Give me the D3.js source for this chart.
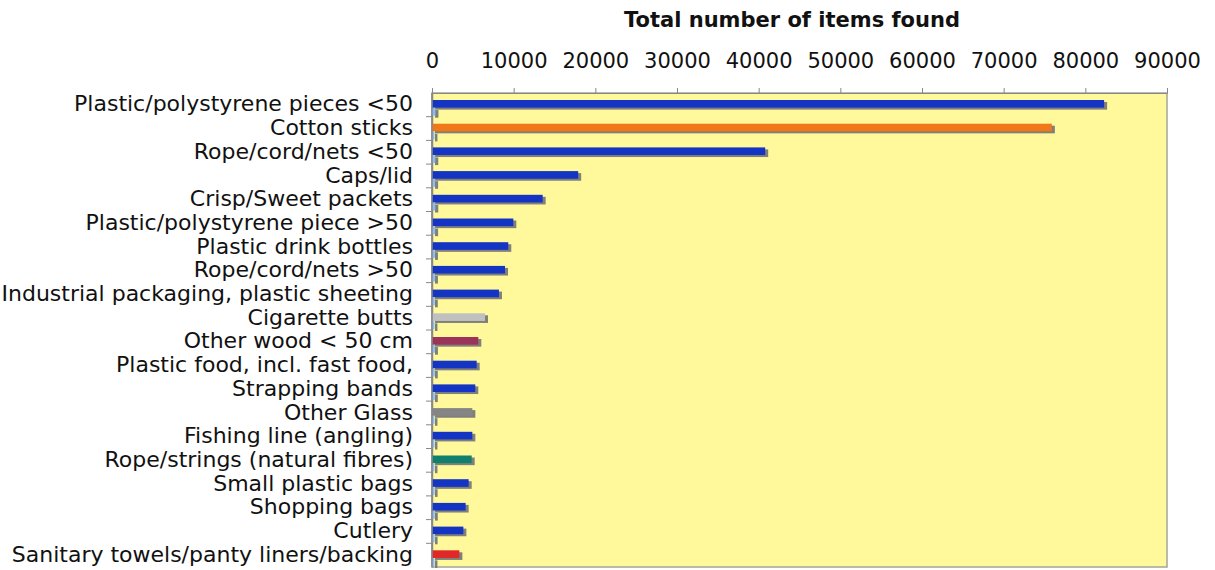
<!DOCTYPE html>
<html>
<head>
<meta charset="utf-8">
<script src="https://cdn.jsdelivr.net/npm/d3@7"></script>
<style>
  body { margin: 0; background: #fff; }
  svg { display: block; }
  svg text { font-family: 'DejaVu Sans', Verdana, sans-serif; }
</style>
</head>
<body>
<svg id="chart" width="1215" height="570"></svg>
<script>
// Data
const categories = [
  'Plastic/polystyrene pieces <50',
  'Cotton sticks',
  'Rope/cord/nets <50',
  'Caps/lid',
  'Crisp/Sweet packets',
  'Plastic/polystyrene piece >50',
  'Plastic drink bottles',
  'Rope/cord/nets >50',
  'Industrial packaging, plastic sheeting',
  'Cigarette butts',
  'Other wood < 50 cm',
  'Plastic food, incl. fast food,',
  'Strapping bands',
  'Other Glass',
  'Fishing line (angling)',
  'Rope/strings (natural fibres)',
  'Small plastic bags',
  'Shopping bags',
  'Cutlery',
  'Sanitary towels/panty liners/backing'
];
const totalFound = [82300, 75900, 40800, 17900, 13550, 9960, 9340, 8940, 8200, 6490,
                    5670, 5470, 5300, 4940, 4940, 4860, 4490, 4120, 3840, 3350];
const secondSeries = [420, 300, 400, 380, 400, 380, 360, 360, 340, 300,
                      360, 340, 340, 300, 300, 300, 320, 340, 320, 300];
const barColors = ['#1434c4', '#f07818', '#1434c4', '#1434c4', '#1434c4', '#1434c4', '#1434c4',
                   '#1434c4', '#1434c4', '#c0c0c0', '#9c3358', '#1434c4', '#1434c4', '#858585',
                   '#1434c4', '#10806c', '#1434c4', '#1434c4', '#1434c4', '#e02828'];
const xTicks = [0, 10000, 20000, 30000, 40000, 50000, 60000, 70000, 80000, 90000];
const title = 'Total number of items found';

const margin = { top: 93, right: 48, bottom: 3, left: 432 };
const width = 1215, height = 570;

const svg = d3.select('#chart');

const x = d3.scaleLinear()
  .domain([0, 90000])
  .range([margin.left, width - margin.right]);

const y = d3.scaleBand()
  .domain(categories)
  .range([margin.top, height - margin.bottom])
  .padding(0);

// sub band for the two series inside each category
const ySub = d3.scaleBand()
  .domain(['total', 'second'])
  .range([7, y.bandwidth() - 1])
  .paddingInner(0.05);

// Plot background
svg.append('rect')
  .attr('x', x(0))
  .attr('y', margin.top)
  .attr('width', x(90000) - x(0))
  .attr('height', height - margin.bottom - margin.top)
  .attr('fill', '#fff99c')
  .attr('stroke', '#a4a49a')
  .attr('stroke-width', 1.5);

// Top axis
const xAxis = svg.append('g')
  .attr('transform', `translate(0,${margin.top})`)
  .call(d3.axisTop(x).tickValues(xTicks).tickFormat(d3.format('d')).tickSize(5).tickPadding(20));
xAxis.attr('font-family', null);
xAxis.select('.domain').attr('stroke', '#888');
xAxis.selectAll('.tick line').attr('stroke', '#888');
xAxis.selectAll('text')
  .attr('fill', '#111')
  .style('font-size', '21px');

// Left axis
const yAxis = svg.append('g')
  .attr('transform', `translate(${margin.left},0)`)
  .call(d3.axisLeft(y).tickSize(0).tickPadding(19));
yAxis.attr('font-family', null);
yAxis.select('.domain').attr('stroke', '#888').attr('stroke-width', 1.5);
yAxis.selectAll('text')
  .attr('fill', '#111')
  .attr('dy', '0.3em')
  .style('font-size', '22px');

// tick marks between categories
svg.append('g')
  .selectAll('line')
  .data(categories.slice(1))
  .join('line')
  .attr('x1', margin.left - 6)
  .attr('x2', margin.left)
  .attr('y1', d => y(d))
  .attr('y2', d => y(d))
  .attr('stroke', '#888');

// Title
svg.append('text')
  .attr('x', 792)
  .attr('y', 27)
  .attr('text-anchor', 'middle')
  .style('font-size', '21px')
  .style('font-weight', 'bold')
  .attr('fill', '#111')
  .text(title);

const groups = svg.append('g')
  .selectAll('g')
  .data(categories)
  .join('g')
  .attr('transform', d => `translate(0,${y(d)})`);

// shadows
groups.append('rect')
  .attr('x', x(0) + 3)
  .attr('y', ySub('total') + 2)
  .attr('width', (d, i) => x(totalFound[i]) - x(0))
  .attr('height', ySub.bandwidth())
  .attr('fill', '#80807a');

groups.append('rect')
  .attr('x', x(0) + 3)
  .attr('y', ySub('second') + 2)
  .attr('width', (d, i) => x(secondSeries[i]) - x(0))
  .attr('height', ySub.bandwidth())
  .attr('fill', '#80807a');

// bars
groups.append('rect')
  .attr('x', x(0))
  .attr('y', ySub('total'))
  .attr('width', (d, i) => x(totalFound[i]) - x(0))
  .attr('height', ySub.bandwidth())
  .attr('fill', (d, i) => barColors[i]);

groups.append('rect')
  .attr('x', x(0))
  .attr('y', ySub('second'))
  .attr('width', (d, i) => x(secondSeries[i]) - x(0))
  .attr('height', ySub.bandwidth())
  .attr('fill', '#8cbcf0');

// redraw left axis line on top of bars
svg.append('line')
  .attr('x1', margin.left).attr('x2', margin.left)
  .attr('y1', margin.top).attr('y2', height - margin.bottom)
  .attr('stroke', '#888').attr('stroke-width', 1.5);
</script>
</body>
</html>
